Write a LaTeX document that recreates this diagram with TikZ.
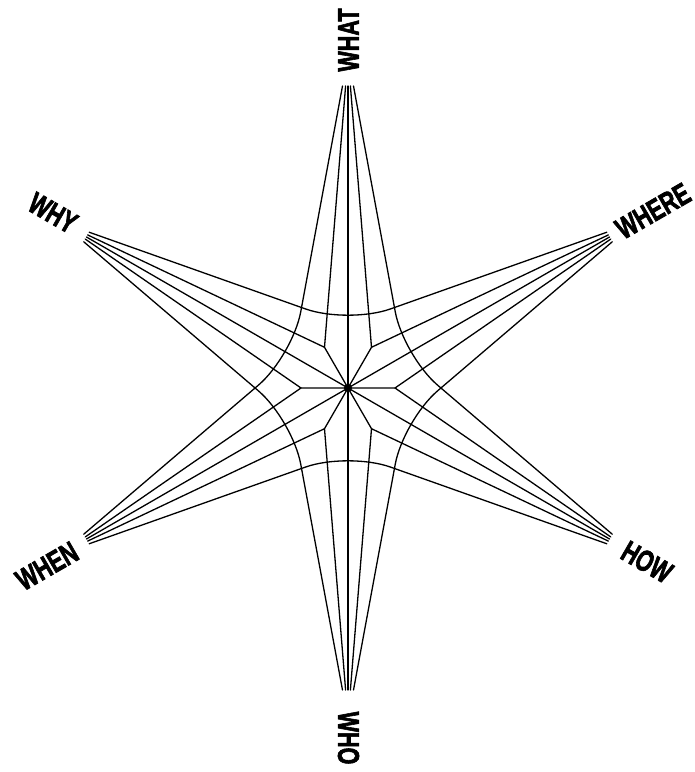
\documentclass[tikz,border=0pt]{standalone}
\usepackage{fontspec}
\newfontfamily\labfont{Liberation Sans}[FakeBold=2.6]
\newcommand{\lbl}[1]{\scalebox{0.72}[1]{#1}}
\tikzset{
  web/.style={line width=1.3pt, black, line cap=round, line join=round},
  lab/.style={font=\labfont\bfseries\fontsize{30}{30}\selectfont, inner sep=0pt, text=black}
}
\begin{document}
\begin{tikzpicture}[x=1pt,y=1pt]
\useasboundingbox (-348,-384) rectangle (347,388);
\coordinate (O) at (0,0);
% geometry, one sector per tip (k=0 at top, counter-clockwise by 60 degrees)
\foreach \k in {0,...,5}{
  \begin{scope}[rotate=60*\k]
    \coordinate (T\k)  at (0,302);
    \coordinate (S0\k) at (0,302);
    \coordinate (JL\k) at (-2.4,302);
    \coordinate (JR\k) at (2.4,302);
    \coordinate (SL\k) at (-5.5,302);
    \coordinate (SR\k) at (5.5,302);
    \coordinate (J\k)  at (120:47);
    \coordinate (V\k)  at (90:64);
  \end{scope}
}
\foreach \k [evaluate=\k as \kn using {int(mod(\k+1,6))},
             evaluate=\k as \kp using {int(mod(\k+5,6))}] in {0,...,5}{
  \draw[web] (S0\k) -- (O);
  \draw[web] (JL\k) -- (J\k) -- (O);
  \draw[web] (JR\kn) -- (J\k);
  \draw[web, rounded corners=45pt] (SL\kp) -- (V\k) -- (SR\kn);
}
\fill[black] (O) circle (4pt);
% labels
\node[lab, rotate=90]  (lwhat)  at (0.5,348)    {\lbl{WHAT}};
\node[lab, rotate=-90] (lwho)   at (0.5,-350)   {\lbl{WHO}};
\node[lab, rotate=-30] (lwhy)   at (-295,175)   {\lbl{WHY}};
\node[lab, rotate=30]  (lwhere) at (305,177)    {\lbl{WHERE}};
\node[lab, rotate=30]  (lwhen)  at (-301,-178)  {\lbl{WHEN}};
\node[lab, rotate=-30] (lhow)   at (299,-174)   {\lbl{HOW}};
\end{tikzpicture}
\end{document}
